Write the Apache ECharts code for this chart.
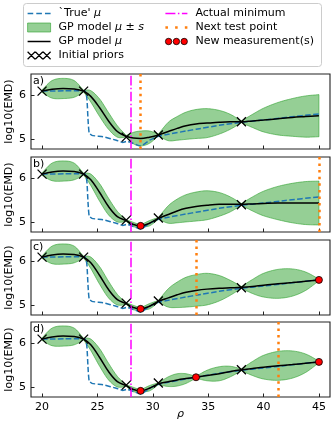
<!DOCTYPE html>
<html>
<head>
<meta charset="utf-8">
<script src="https://cdn.jsdelivr.net/npm/echarts@6/dist/echarts.min.js"></script>
<style>
  html, body { margin: 0; padding: 0; background: #fff; }
  #chart { width: 333px; height: 425px; }
</style>
</head>
<body>
<div id="chart"></div>
<script>
const gpX = [20, 20.9, 21.9, 22.9, 23.75, 24.4, 25.2, 26.0, 26.8, 27.6, 28.25, 28.9, 29.7, 30.5,
             31.4, 32.2, 33.0, 33.9, 34.9, 36.0, 37.0, 38.0, 39.0, 40.0, 41.3, 42.6, 43.8, 45];

// GP mean / std for each panel a) .. d)
const meanA = [6.10, 6.14, 6.16, 6.15, 6.10, 5.98, 5.72, 5.42, 5.18, 5.07, 5.03, 5.02, 5.05, 5.10,
               5.18, 5.25, 5.31, 5.35, 5.37, 5.39, 5.40, 5.40, 5.42, 5.44, 5.47, 5.50, 5.52, 5.54];
const stdA  = [0.03, 0.20, 0.23, 0.19, 0.02, 0.13, 0.20, 0.19, 0.13, 0.02, 0.13, 0.17, 0.14, 0.02,
               0.21, 0.27, 0.31, 0.33, 0.33, 0.27, 0.17, 0.02, 0.15, 0.27, 0.37, 0.43, 0.47, 0.48];
const meanB = [6.10, 6.15, 6.17, 6.16, 6.10, 5.97, 5.68, 5.36, 5.13, 5.04, 4.95, 4.92, 4.98, 5.09,
               5.18, 5.26, 5.32, 5.36, 5.39, 5.41, 5.41, 5.41, 5.42, 5.43, 5.44, 5.44, 5.44, 5.44];
const stdB  = [0.03, 0.20, 0.23, 0.19, 0.02, 0.13, 0.20, 0.19, 0.12, 0.02, 0.05, 0.02, 0.06, 0.02,
               0.20, 0.27, 0.31, 0.33, 0.33, 0.27, 0.17, 0.02, 0.16, 0.28, 0.38, 0.45, 0.49, 0.50];
const meanC = [6.10, 6.15, 6.17, 6.16, 6.10, 5.97, 5.68, 5.36, 5.13, 5.04, 4.95, 4.92, 4.98, 5.09,
               5.17, 5.24, 5.30, 5.34, 5.37, 5.39, 5.40, 5.41, 5.43, 5.46, 5.49, 5.52, 5.55, 5.58];
const stdC  = [0.03, 0.20, 0.23, 0.19, 0.02, 0.13, 0.20, 0.19, 0.12, 0.02, 0.05, 0.02, 0.06, 0.02,
               0.21, 0.29, 0.34, 0.36, 0.36, 0.29, 0.17, 0.02, 0.16, 0.27, 0.33, 0.31, 0.21, 0.02];
const meanD = [6.10, 6.15, 6.17, 6.16, 6.10, 5.97, 5.68, 5.36, 5.13, 5.04, 4.95, 4.92, 4.98, 5.08,
               5.13, 5.17, 5.20, 5.23, 5.27, 5.31, 5.36, 5.40, 5.43, 5.46, 5.49, 5.52, 5.55, 5.58];
const stdD  = [0.03, 0.20, 0.23, 0.19, 0.02, 0.13, 0.20, 0.19, 0.12, 0.02, 0.05, 0.02, 0.06, 0.02,
               0.11, 0.14, 0.11, 0.02, 0.12, 0.16, 0.12, 0.02, 0.16, 0.27, 0.33, 0.31, 0.21, 0.02];

// 'True' mu
const trueX = [20, 21, 22, 23, 23.9, 24.05, 24.15, 24.25, 24.5, 25.5, 26.7, 27.3, 27.6, 28.0, 28.9,
               29.7, 30.5, 31.5, 33.0, 33.9, 36.0, 38.0, 40.0, 42.0, 45.0];
const trueY = [6.10, 6.10, 6.11, 6.11, 6.10, 5.92, 5.45, 5.15, 5.09, 5.06, 4.98, 4.93, 4.95, 4.93, 4.85,
               4.98, 5.07, 5.12, 5.19, 5.23, 5.32, 5.39, 5.44, 5.50, 5.58];

const priorX = [20, 23.75, 27.6, 30.5, 38];
const priorY = [6.1, 6.1, 5.05, 5.1, 5.4];

const newMeasX = [[], [28.9], [28.9, 45], [28.9, 33.9, 45]];
const newMeasY = [[], [4.92], [4.92, 5.58], [4.92, 5.23, 5.58]];

const nextTestX = [28.9, 45, 33.9, 41.3];
const actualMinX = 28.0;

const panelLabels = ['a)', 'b)', 'c)', 'd)'];
const xTicks = [20, 25, 30, 35, 40, 45];
const yTicks = [5, 6];

const FONT = 'DejaVu Sans';
const BAND_FILL = 'rgba(44,160,44,0.5)';
const BAND_EDGE = 'rgba(44,160,44,0.75)';

const panels = [[meanA, stdA], [meanB, stdB], [meanC, stdC], [meanD, stdD]];
const panelTops = [74, 157, 240, 322];

const zip = (xs, ys) => xs.map((x, i) => [x, ys[i]]);

// Hermite curve through pixel points, with corners where the band pinches
function curvePixels(pts, corner) {
    const out = [pts[0]];
    const n = pts.length;
    const tan = (i, side) => {
        if (i === 0 || i === n - 1 || corner[i]) {
            const j = side > 0 ? Math.min(i + 1, n - 1) : Math.max(i - 1, 0);
            return side > 0 ? [pts[j][0] - pts[i][0], pts[j][1] - pts[i][1]]
                            : [pts[i][0] - pts[j][0], pts[i][1] - pts[j][1]];
        }
        return [(pts[i + 1][0] - pts[i - 1][0]) / 2, (pts[i + 1][1] - pts[i - 1][1]) / 2];
    };
    for (let i = 0; i < n - 1; i++) {
        const p0 = pts[i], p1 = pts[i + 1];
        const t0 = tan(i, 1), t1 = tan(i + 1, -1);
        const c1 = [p0[0] + t0[0] / 3, p0[1] + t0[1] / 3];
        const c2 = [p1[0] - t1[0] / 3, p1[1] - t1[1] / 3];
        for (let k = 1; k <= 8; k++) {
            const t = k / 8, u = 1 - t;
            out.push([
                u * u * u * p0[0] + 3 * u * u * t * c1[0] + 3 * u * t * t * c2[0] + t * t * t * p1[0],
                u * u * u * p0[1] + 3 * u * u * t * c1[1] + 3 * u * t * t * c2[1] + t * t * t * p1[1]
            ]);
        }
    }
    return out;
}

function bandRenderer(mean, std) {
    return function (params, api) {
        if (params.dataIndex !== 0) return;
        const corner = std.map(s => s <= 0.021);
        const up = gpX.map((x, i) => api.coord([x, mean[i] + std[i]]));
        const lo = gpX.map((x, i) => api.coord([x, mean[i] - std[i]]));
        const pts = curvePixels(up, corner).concat(curvePixels(lo, corner).reverse());
        return {
            type: 'polygon',
            shape: { points: pts },
            style: { fill: BAND_FILL, stroke: BAND_EDGE, lineWidth: 0.8 }
        };
    };
}

const grids = [], xAxes = [], yAxes = [], series = [], titles = [];

panels.forEach(([mean, std], p) => {
    grids.push({
        left: 31, right: 3, top: panelTops[p], height: 75, outerBoundsMode: 'none', containLabel: false,
        show: true, borderColor: '#222', borderWidth: 1.1, backgroundColor: 'transparent'
    });
    xAxes.push({
        gridIndex: p, type: 'value', min: 19, max: 46,
        axisLine: { show: false }, splitLine: { show: false },
        axisTick: { show: true, inside: true, length: 3.5, customValues: xTicks, lineStyle: { color: '#222', width: 1 } },
        axisLabel: { show: p === 3, customValues: xTicks, margin: 5, fontSize: 11, color: '#000', fontFamily: FONT },
        name: p === 3 ? 'ρ' : '', nameLocation: 'middle', nameGap: 12, nameMoveOverlap: false,
        nameTextStyle: { fontSize: 11, fontStyle: 'italic', color: '#000', fontFamily: FONT }
    });
    yAxes.push({
        gridIndex: p, type: 'value', min: 4.78, max: 6.49,
        axisLine: { show: false }, splitLine: { show: false },
        axisTick: { show: true, inside: true, length: 3.5, customValues: yTicks, lineStyle: { color: '#222', width: 1 } },
        axisLabel: { customValues: yTicks, margin: 5, fontSize: 11, color: '#000', fontFamily: FONT },
        name: 'log10(EMD)', nameLocation: 'middle', nameGap: 16, nameMoveOverlap: false,
        nameTextStyle: { fontSize: 11, color: '#000', fontFamily: FONT }
    });
    titles.push({
        text: panelLabels[p], left: 33, top: panelTops[p] + 2, padding: 0,
        textStyle: { fontSize: 11, fontWeight: 'normal', color: '#000', fontFamily: FONT }
    });

    series.push({
        name: 'GP model μ ± s', type: 'custom', xAxisIndex: p, yAxisIndex: p, z: 1,
        data: [[gpX[0], mean[0]]], renderItem: bandRenderer(mean, std), silent: true
    });
    series.push({
        name: "`True' μ", type: 'line', xAxisIndex: p, yAxisIndex: p, z: 2,
        data: zip(trueX, trueY), symbol: 'none', smooth: 0.15,
        lineStyle: { color: '#1f77b4', width: 1.5, type: [5.5, 2.4] }
    });
    series.push({
        name: 'GP model μ', type: 'line', xAxisIndex: p, yAxisIndex: p, z: 3,
        data: zip(gpX, mean), symbol: 'none', smooth: 0.35,
        lineStyle: { color: '#000', width: 1.5 }
    });
    series.push({
        name: 'Actual minimum', type: 'line', xAxisIndex: p, yAxisIndex: p, z: 4, data: [],
        markLine: {
            silent: true, symbol: ['none', 'none'], label: { show: false }, animation: false,
            lineStyle: { color: '#ff00ff', width: 1.5, type: [9.6, 2.4, 1.5, 2.4] },
            data: [{ xAxis: actualMinX }]
        }
    });
    series.push({
        name: 'Next test point', type: 'line', xAxisIndex: p, yAxisIndex: p, z: 4, data: [],
        markLine: {
            silent: true, symbol: ['none', 'none'], label: { show: false }, animation: false,
            lineStyle: { color: '#ff7f0e', width: 2.5, type: [2.5, 4.1] },
            data: [{ xAxis: nextTestX[p] }]
        }
    });
    series.push({
        name: 'Initial priors', type: 'scatter', xAxisIndex: p, yAxisIndex: p, z: 6,
        data: zip(priorX, priorY), symbol: 'path://M0,0L10,10M0,10L10,0', symbolSize: 9,
        itemStyle: { color: 'rgba(0,0,0,0)', borderColor: '#000', borderWidth: 1.3, opacity: 1 }
    });
    series.push({
        name: 'New measurement(s)', type: 'scatter', xAxisIndex: p, yAxisIndex: p, z: 7,
        data: zip(newMeasX[p], newMeasY[p]), symbol: 'circle', symbolSize: 7,
        itemStyle: { color: '#ff0000', borderColor: '#000', borderWidth: 0.8, opacity: 1 }
    });
});

const legendText = {
    fontSize: 11, color: '#000', fontFamily: FONT, lineHeight: 14, padding: [0, 0, 0, 3],
    rich: { i: { fontStyle: 'italic', fontSize: 11, fontFamily: FONT } }
};
const legendFormatter = name => name.replace('μ', '{i|μ}').replace('± s', '± {i|s}');

const legends = [
    {
        left: 27, top: 6.5, orient: 'vertical', itemGap: 0, itemWidth: 23, itemHeight: 10,
        padding: 0, selectedMode: false, textStyle: legendText, formatter: legendFormatter,
        data: [
            { name: "`True' μ", icon: 'path://M0,0h5.5v1.5H0zM8.5,0h5.5v1.5H8.5zM17,0h5.5v1.5H17z',
              itemStyle: { color: '#1f77b4', borderWidth: 0 } },
            { name: 'GP model μ ± s', icon: 'path://M0,0h23v9H0z',
              itemStyle: { color: BAND_FILL, borderColor: BAND_EDGE, borderWidth: 0.8 } },
            { name: 'GP model μ', icon: 'path://M0,0h23v1.5H0z',
              itemStyle: { color: '#000', borderWidth: 0 } },
            { name: 'Initial priors',
              icon: 'path://M0,0L7.5,7.5M0,7.5L7.5,0M7.7,0L15.2,7.5M7.7,7.5L15.2,0M15.4,0L22.9,7.5M15.4,7.5L22.9,0',
              itemStyle: { color: 'rgba(0,0,0,0)', borderColor: '#000', borderWidth: 1.2 } }
        ]
    },
    {
        left: 165, top: 6.5, orient: 'vertical', itemGap: 0, itemWidth: 22, itemHeight: 10,
        padding: 0, selectedMode: false, textStyle: legendText, formatter: legendFormatter,
        data: [
            { name: 'Actual minimum', icon: 'path://M0,0h10v1.5H0zM12.5,0h1.5v1.5h-1.5zM16.5,0h5.5v1.5h-5.5z',
              itemStyle: { color: '#ff00ff', borderWidth: 0 } },
            { name: 'Next test point', icon: 'path://M0,0h2.5v2.5H0zM9.5,0h2.5v2.5H9.5zM19,0h2.5v2.5H19z',
              itemStyle: { color: '#ff7f0e', borderWidth: 0 } },
            { name: 'New measurement(s)',
              icon: 'path://M0,3.2a3.2,3.2 0 1,0 6.4,0a3.2,3.2 0 1,0 -6.4,0zM7.8,3.2a3.2,3.2 0 1,0 6.4,0a3.2,3.2 0 1,0 -6.4,0zM15.6,3.2a3.2,3.2 0 1,0 6.4,0a3.2,3.2 0 1,0 -6.4,0z',
              itemStyle: { color: '#ff0000', borderColor: '#000', borderWidth: 0.8 } }
        ]
    }
];

const myChart = echarts.init(document.getElementById('chart'), null, { renderer: 'canvas' });
myChart.setOption({
    animation: false,
    backgroundColor: '#fff',
    title: titles,
    legend: legends,
    // legend frame
    graphic: [{
        type: 'rect', left: 23, top: 3, z: -1, silent: true,
        shape: { width: 298, height: 63, r: 3 },
        style: { fill: '#fff', stroke: '#cccccc', lineWidth: 1 }
    }],
    grid: grids,
    xAxis: xAxes,
    yAxis: yAxes,
    series: series
});
</script>
</body>
</html>
